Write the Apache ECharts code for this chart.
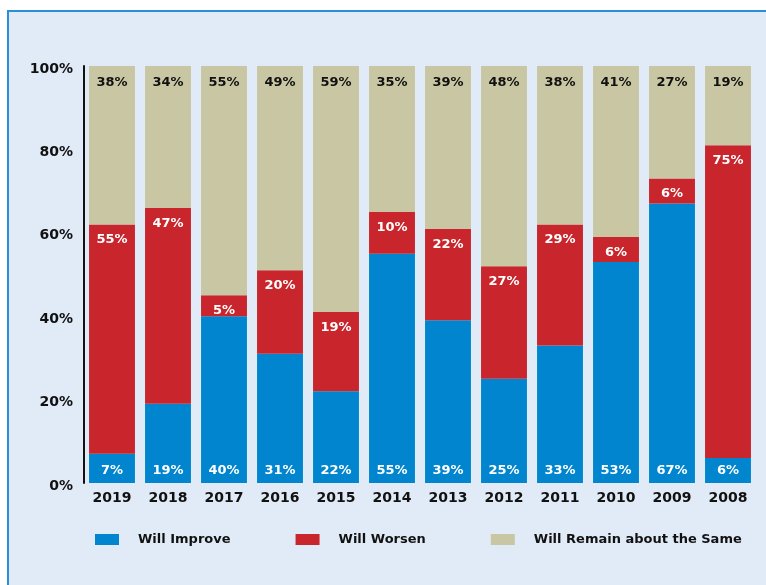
<!DOCTYPE html>
<html><head><meta charset="utf-8">
<script src="https://cdn.jsdelivr.net/npm/echarts@6/dist/echarts.min.js"></script>
<style>html,body{margin:0;padding:0;background:#fff}#c{width:766px;height:585px}</style>
</head><body><div id="c"></div>
<script>
const categories = ['2019','2018','2017','2016','2015','2014','2013','2012','2011','2010','2009','2008'];
const improve = [7,19,40,31,22,55,39,25,33,53,67,6];
const worsen  = [55,47,5,20,19,10,22,27,29,6,6,75];
const same    = [38,34,55,49,59,35,39,48,38,41,27,19];
const yTicks  = [0,20,40,60,80,100];

const FONT = 'DejaVu Sans';
const chart = echarts.init(document.getElementById('c'));
const lbl = (pos, color, dy) => ({
  show: true, position: pos, distance: dy, color: color,
  fontFamily: FONT, fontWeight: 'bold', fontSize: 13,
  formatter: p => p.value + '%'
});
chart.setOption({
  animation: false,
  backgroundColor: '#ffffff',
  graphic: [{
    type: 'rect', z: -10, silent: true,
    shape: { x: 8, y: 11, width: 800, height: 620 },
    style: { fill: '#E1EBF7', stroke: '#2A8FD4', lineWidth: 2 }
  }],
  grid: { left: 84, top: 66, width: 672, height: 417 },
  legend: {
    left: 95, top: 533, padding: 0, itemWidth: 24, itemHeight: 11, itemGap: 65,
    icon: 'rect',
    textStyle: { fontFamily: FONT, fontWeight: 'bold', fontSize: 13, color: '#111', padding: [0,0,0,14] },
    data: ['Will Improve','Will Worsen','Will Remain about the Same']
  },
  xAxis: {
    type: 'category', data: categories,
    axisLine: { show: false }, axisTick: { show: false },
    axisLabel: { margin: 8, fontFamily: FONT, fontWeight: 'bold', fontSize: 14, color: '#111' }
  },
  yAxis: {
    type: 'value', min: 0, max: 100, interval: 20,
    axisLine: { show: true, lineStyle: { color: '#111', width: 2 } },
    axisTick: { show: false }, splitLine: { show: false },
    axisLabel: { margin: 11, color: '#111',
      formatter: v => yTicks.includes(v) ? '{a|' + v + '%}' : '',
      rich: { a: { fontFamily: FONT, fontWeight: 'bold', fontSize: 14, color: '#111', padding: [6,0,0,0] } } }
  },
  series: [
    { name: 'Will Improve', type: 'bar', stack: 't', data: improve, barCategoryGap: '18%',
      itemStyle: { color: '#0085CE' }, label: lbl('insideBottom', '#fff', 6) },
    { name: 'Will Worsen', type: 'bar', stack: 't', data: worsen,
      itemStyle: { color: '#C9252C' }, label: lbl('insideTop', '#fff', 9) },
    { name: 'Will Remain about the Same', type: 'bar', stack: 't', data: same,
      itemStyle: { color: '#C8C6A3' }, label: lbl('insideTop', '#111', 10) }
  ]
});
</script></body></html>
